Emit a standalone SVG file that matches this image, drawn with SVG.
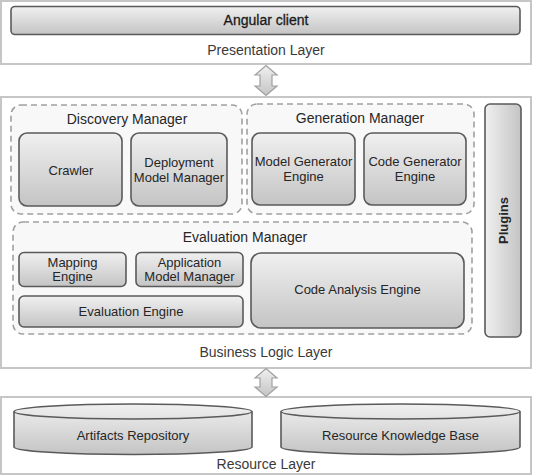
<svg xmlns="http://www.w3.org/2000/svg" width="533" height="476" viewBox="0 0 533 476">
<defs>
<linearGradient id="g" x1="0" y1="0" x2="0" y2="1">
<stop offset="0" stop-color="#f0f0f0"/>
<stop offset="1" stop-color="#c4c4c4"/>
</linearGradient>
<linearGradient id="gh" x1="0" y1="0" x2="1" y2="0">
<stop offset="0" stop-color="#f0f0f0"/>
<stop offset="1" stop-color="#c4c4c4"/>
</linearGradient>
<style>
.layer{fill:#fff;stroke:#c6c6c6;stroke-width:2}
.box{fill:url(#g);stroke:#5a5a5a;stroke-width:1.6}
.cont{fill:#f8f8f8;stroke:#a0a0a0;stroke-width:1.6;stroke-dasharray:6 4}
.arrow{fill:url(#g);stroke:#a0a0a0;stroke-width:1.2}
text{font-family:"Liberation Sans",Arial,sans-serif;text-anchor:middle}
.t{font-size:13px;fill:#262626}
.h{font-size:14px;fill:#262626}
.l{font-size:14px;fill:#3a3a3a}
</style>
</defs>
<g id="presentation-layer">
<rect class="layer" x="1" y="1" width="530" height="63"/>
<text class="l" x="266" y="55">Presentation Layer</text>
</g>
<g id="angular-client">
<rect class="box" x="11" y="6.5" width="509" height="28" rx="4"/>
<text class="h" x="266" y="25" style="fill:#1a1a1a;stroke:#1a1a1a;stroke-width:0.3">Angular client</text>
</g>
<g id="business-logic-layer">
<rect class="layer" x="1" y="97" width="530" height="271"/>
<text class="l" x="266" y="357">Business Logic Layer</text>
</g>
<g id="discovery-manager">
<rect class="cont" x="11" y="105" width="231" height="109" rx="10"/>
<text class="h" x="127" y="124">Discovery Manager</text>
</g>
<g id="crawler">
<rect class="box" x="19" y="133" width="103" height="73" rx="8"/>
<text class="t" x="71" y="174.5">Crawler</text>
</g>
<g id="deployment-model-manager">
<rect class="box" x="131" y="133" width="96" height="73" rx="8"/>
<text class="t" x="179" y="167">Deployment</text>
<text class="t" x="179" y="182">Model Manager</text>
</g>
<g id="generation-manager">
<rect class="cont" x="247" y="104" width="227" height="110" rx="10"/>
<text class="h" x="360" y="123">Generation Manager</text>
</g>
<g id="model-generator-engine">
<rect class="box" x="252" y="133" width="103" height="72" rx="8"/>
<text class="t" x="303.5" y="166">Model Generator</text>
<text class="t" x="303.5" y="181">Engine</text>
</g>
<g id="code-generator-engine">
<rect class="box" x="364" y="133" width="102" height="72" rx="8"/>
<text class="t" x="415" y="166">Code Generator</text>
<text class="t" x="415" y="181">Engine</text>
</g>
<g id="evaluation-manager">
<rect class="cont" x="13" y="222" width="459" height="112" rx="10"/>
<text class="h" x="245" y="242">Evaluation Manager</text>
</g>
<g id="mapping-engine">
<rect class="box" x="19" y="252.5" width="107" height="34" rx="5"/>
<text class="t" x="72.5" y="267">Mapping</text>
<text class="t" x="72.5" y="281">Engine</text>
</g>
<g id="application-model-manager">
<rect class="box" x="136" y="252.5" width="107" height="34" rx="5"/>
<text class="t" x="189.5" y="267">Application</text>
<text class="t" x="189.5" y="281">Model Manager</text>
</g>
<g id="evaluation-engine">
<rect class="box" x="19" y="296" width="224" height="31" rx="5"/>
<text class="t" x="131" y="316">Evaluation Engine</text>
</g>
<g id="code-analysis-engine">
<rect class="box" x="251" y="253" width="213" height="75" rx="10"/>
<text class="t" x="357.5" y="294">Code Analysis Engine</text>
</g>
<g id="plugins">
<rect x="485" y="104" width="36" height="233" rx="5" style="fill:url(#gh);stroke:#5a5a5a;stroke-width:1.6"/>
<text x="508" y="220.5" transform="rotate(-90 508 220.5)" style="font-size:13px;font-weight:bold;fill:#262626">Plugins</text>
</g>
<g id="resource-layer">
<rect class="layer" x="1" y="397" width="530" height="77"/>
<text class="l" x="266" y="469">Resource Layer</text>
</g>
<g id="artifacts-repository">
<path class="box" d="M14,411.5 A119,7.5 0 0 1 252,411.5 L252,447 A119,7.5 0 0 1 14,447 Z"/>
<path d="M14,411.5 A119,7.5 0 0 0 252,411.5" fill="none" stroke="#5a5a5a" stroke-width="1.6"/>
<text class="t" x="133" y="440">Artifacts Repository</text>
</g>
<g id="resource-knowledge-base">
<path class="box" d="M281,411.5 A119.5,7.5 0 0 1 520,411.5 L520,447 A119.5,7.5 0 0 1 281,447 Z"/>
<path d="M281,411.5 A119.5,7.5 0 0 0 520,411.5" fill="none" stroke="#5a5a5a" stroke-width="1.6"/>
<text class="t" x="400.5" y="440">Resource Knowledge Base</text>
</g>
<g id="connectors">
<path class="arrow" d="M266,65.5 L277,75 L272,75 L272,86 L277,86 L266,95.5 L255,86 L260,86 L260,75 L255,75 Z"/>
<path class="arrow" d="M266,368.5 L277,378 L272,378 L272,387 L277,387 L266,396.5 L255,387 L260,387 L260,378 L255,378 Z"/>
</g>
</svg>
